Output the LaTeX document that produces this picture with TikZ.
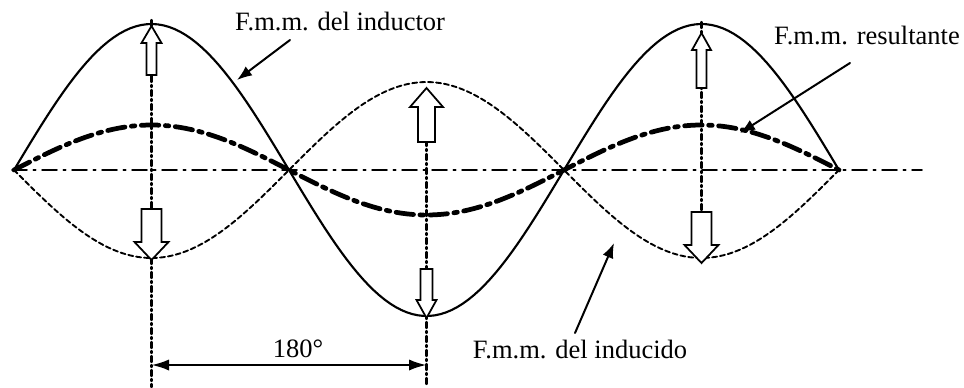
\documentclass[tikz,border=0pt]{standalone}
\usepackage{fontspec}
\setmainfont{Liberation Serif}
\usetikzlibrary{arrows.meta}

\tikzset{
    inductor/.style={black, line width=0.85pt},
    inducido/.style={black, line width=0.75pt, dash pattern=on 2pt off 1.2pt},
    resultante/.style={black, line width=1.9pt, dash pattern=on 7pt off 2.6pt on 1.4pt off 2.6pt},
    eje/.style={black, line width=0.6pt, dash pattern=on 6pt off 2.5pt on 1pt off 2.5pt},
    guia/.style={black, line width=0.9pt, dash pattern=on 2.4pt off 1.2pt on 0.8pt off 1.2pt},
    hueca/.style={draw=black, fill=white, line width=0.7pt, line join=miter},
    puntero/.style={black, line width=0.8pt, -{Latex[length=6pt,width=4.5pt]}},
    rotulo/.style={font=\fontsize{10.6}{12}\selectfont, anchor=base, inner sep=0pt}
}

\begin{document}
\begin{tikzpicture}[x=0.4pt, y=-0.4pt, line cap=round, line join=round]

\useasboundingbox (0,0) rectangle (964,387);

% eje horizontal
\coordinate (eje0) at (12,170);
\coordinate (eje1) at (922,170);
\draw[eje] (eje0) -- (eje1);

% verticales por los maximos
\coordinate (v1a) at (151.5,20);  \coordinate (v1b) at (151.5,387);
\coordinate (v2a) at (426.5,140); \coordinate (v2b) at (426.5,387);
\coordinate (v3a) at (701.5,22);  \coordinate (v3b) at (701.5,212);
\draw[guia] (v1a) -- (v1b);
\draw[guia] (v2a) -- (v2b);
\draw[guia] (v3a) -- (v3b);

% curvas
\draw[inductor] plot[domain=0:540, samples=150] ({14+\x/180*275}, {170-146*sin(\x)});
\draw[inducido] plot[domain=0:540, samples=150] ({14+\x/180*275}, {170+88*sin(\x)});
\draw[resultante] plot[domain=0:540, samples=150] ({14+\x/180*275}, {170-45*sin(\x)});

% flechas huecas: x, pie, punta, semiancho, semiancho cabeza, base cabeza
\foreach \x/\ys/\yt/\w/\h/\yb in {
    151.5/75/26/5/10/43,
    151.5/209/260/10/17/242,
    426.5/142/88/8.5/16.5/107,
    426.5/269/318/6/10/300,
    701.5/88/33/5/9.5/50,
    701.5/212/263/10/17/245} {
    \draw[hueca] (\x-\w,\ys) -- (\x-\w,\yb) -- (\x-\h,\yb) -- (\x,\yt)
        -- (\x+\h,\yb) -- (\x+\w,\yb) -- (\x+\w,\ys) -- cycle;
}

% cota de 180 grados
\draw[black, line width=0.9pt, {Latex[length=7pt,width=4.5pt]}-{Latex[length=7pt,width=4.5pt]}]
    (151.5,365) coordinate (c1) -- (426.5,365) coordinate (c2);
\node[rotulo] (grados) at (298,357) {180°};

% rotulos y punteros
\node[rotulo] (tinductor) at (340,30) {F.m.m. del inductor};
\node[rotulo] (tresultante) at (867,44) {F.m.m. resultante};
\node[rotulo] (tinducido) at (580,358) {F.m.m. del inducido};

\coordinate (p1a) at (290,40);  \coordinate (p1b) at (237,80);
\coordinate (p2a) at (850,63);  \coordinate (p2b) at (740,133);
\coordinate (p3a) at (575,333); \coordinate (p3b) at (614,243);
\draw[puntero] (p1a) -- (p1b);
\draw[puntero] (p2a) -- (p2b);
\draw[puntero] (p3a) -- (p3b);

\end{tikzpicture}
\end{document}
